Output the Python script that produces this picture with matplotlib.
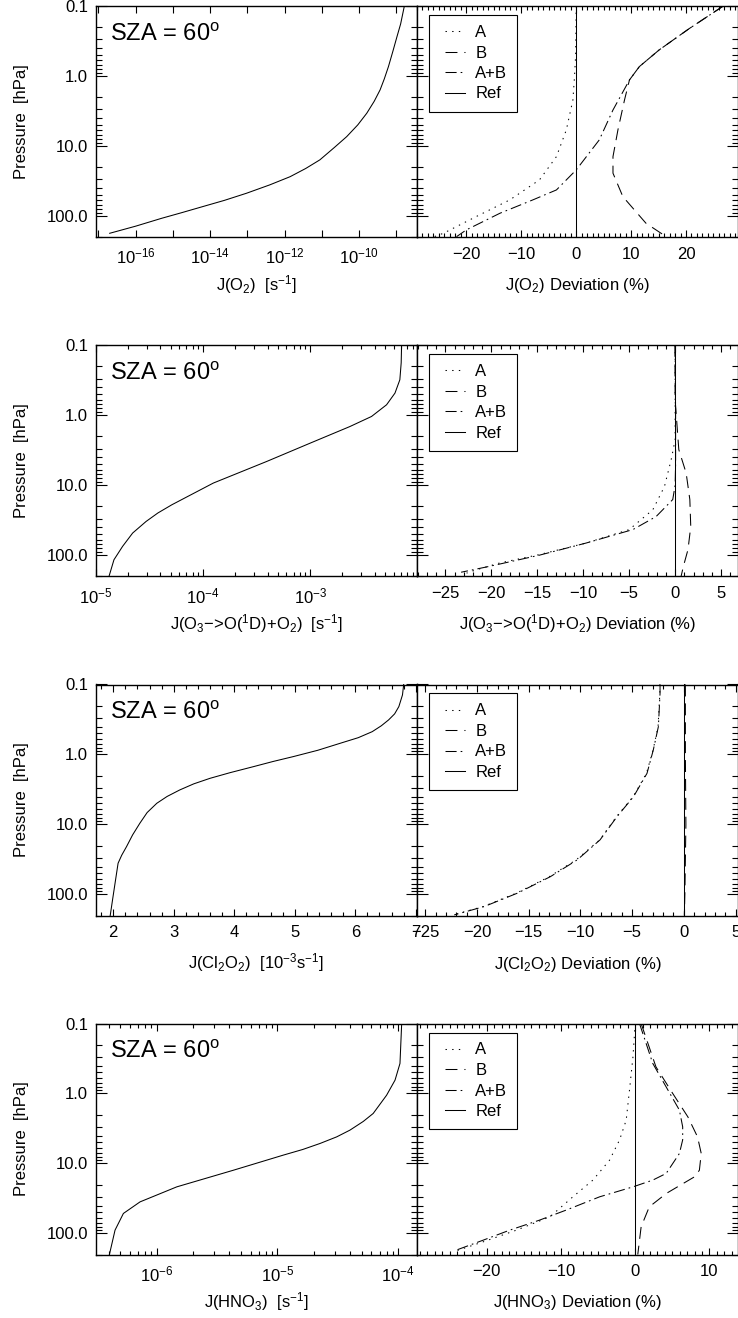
import numpy as np
import matplotlib
matplotlib.use('Agg')
import matplotlib.pyplot as plt
from matplotlib.ticker import (FixedLocator, FuncFormatter, MultipleLocator,
                               LogLocator, NullFormatter)
from matplotlib.legend_handler import HandlerLine2D

plt.rcParams['font.family'] = ['Liberation Sans', 'DejaVu Sans']
plt.rcParams['mathtext.fontset'] = 'custom'
plt.rcParams['mathtext.rm'] = 'Liberation Sans'
plt.rcParams['mathtext.it'] = 'Liberation Sans:italic'
plt.rcParams['mathtext.bf'] = 'Liberation Sans:bold'
plt.rcParams['mathtext.sf'] = 'Liberation Sans'
plt.rcParams['mathtext.default'] = 'regular'
plt.rcParams['lines.scale_dashes'] = False
plt.rcParams['axes.unicode_minus'] = True

# ------------------------------------------------------------------ data
series_labels = ['A', 'B', 'A+B', 'Ref']
sza_label = 'SZA = 60$^{o}$'
y_tick_values = [0.1, 1.0, 10.0, 100.0]
y_tick_labels = ['0.1', '1.0', '10.0', '100.0']

# Panel 1 : J(O2)  [s-1]
p_o2 = [0.1, 0.18, 0.275, 0.45, 0.735, 1.1, 1.58, 2.3, 3.41, 5.0, 7.36, 10.5,
        15.8, 21, 27.5, 36, 47.4, 60, 73.6, 90, 108, 140, 177]
j_o2 = [1.66e-9, 1.32e-9, 1.05e-9, 8.1e-10, 6.2e-10, 4.8e-10, 3.7e-10, 2.57e-10,
        1.62e-10, 9.3e-11, 4.68e-11, 2.19e-11, 8.9e-12, 3.7e-12, 1.41e-12,
        4.0e-13, 9.5e-14, 2.4e-14, 6.3e-15, 1.7e-15, 5.0e-16, 1.0e-16, 2.0e-17]
p_o2_a = [0.1, 0.5, 1.0, 2.2, 5.9, 14.2, 30.6, 59, 102, 177, 200]
dev_o2_a = [0.0, -0.1, -0.3, -0.6, -1.8, -3.6, -6.7, -12.1, -18.2, -24.2, -26.0]
p_o2_b = [0.1, 0.21, 0.425, 0.735, 1.14, 2.2, 5.9, 14.2, 24.5, 53, 127, 198]
dev_o2_b = [26.8, 20.6, 15.1, 11.5, 9.7, 8.8, 7.6, 6.7, 6.7, 8.5, 12.7, 16.4]
p_o2_ab = [0.1, 0.21, 0.425, 0.735, 1.14, 3.06, 8.2, 22, 42.5, 59, 91.6, 158, 198]
dev_o2_ab = [26.8, 20.6, 15.1, 11.5, 9.7, 6.7, 4.2, 0.0, -3.6, -7.9, -13.9, -20.0, -21.8]

# Panel 2 : J(O3 -> O(1D) + O2)  [s-1]
p_o1d = [0.1, 0.178, 0.311, 0.482, 0.708, 1.04, 1.45, 2.5, 4.57, 9.3, 19.0,
         24.9, 32.9, 48.2, 74.8, 116, 201]
j_o1d = [7.11e-3, 7.05e-3, 6.85e-3, 6.17e-3, 5.15e-3, 3.73e-3, 2.34e-3, 1.0e-3,
         3.93e-4, 1.25e-4, 5.13e-5, 3.80e-5, 2.95e-5, 2.21e-5, 1.78e-5,
         1.48e-5, 1.33e-5]
p_o1d_a = [0.1, 1.0, 2.24, 4.3, 10.4, 22.4, 43, 67, 98, 129, 161, 180]
dev_o1d_a = [0.0, 0.0, 0.0, -0.43, -1.16, -2.43, -5.0, -9.7, -14.8, -19.1, -21.6, -22.7]
p_o1d_b = [0.1, 0.6, 3.1, 6.7, 16, 38.8, 83, 144, 200]
dev_o1d_b = [0.0, 0.0, 0.4, 1.2, 1.6, 1.7, 1.4, 0.9, 0.65]
p_o1d_ab = [0.1, 1.0, 5.0, 10.0, 16, 28, 43, 67, 100, 144, 175]
dev_o1d_ab = [0.0, 0.05, 0.05, 0.0, -0.26, -2.07, -4.6, -9.7, -14.8, -20.2, -23.3]

# Panel 3 : J(Cl2O2)  [1e-3 s-1]
p_cl = [0.1, 0.141, 0.207, 0.263, 0.321, 0.389, 0.472, 0.575, 0.692, 0.871, 1.07,
        1.26, 1.49, 1.82, 2.19, 2.63, 3.21, 3.98, 4.98, 6.76, 9.6, 14.1, 20.7,
        27.5, 35.8, 69, 117, 200]
j_cl = [6.80, 6.78, 6.72, 6.65, 6.55, 6.43, 6.28, 6.05, 5.75, 5.38, 4.98,
        4.64, 4.32, 3.93, 3.60, 3.33, 3.10, 2.89, 2.72, 2.56, 2.44, 2.32, 2.22,
        2.14, 2.08, 2.03, 1.99, 1.95]
p_cl_a = [0.1, 0.134, 0.40, 0.86, 1.86, 4.0, 7.7, 16.6, 32, 55.7, 96, 149, 196]
dev_cl_a = [-2.32, -2.32, -2.49, -2.97, -3.61, -4.9, -6.5, -8.13, -10.4, -13.0,
            -16.2, -19.4, -22.3]
p_cl_b = [0.1, 1.0, 10.0, 100.0, 200.0]
dev_cl_b = [0.15, 0.15, 0.2, 0.1, 0.05]
p_cl_ab = [0.1, 0.134, 0.40, 0.86, 1.86, 4.0, 7.7, 16.6, 32, 55.7, 96, 149, 196]
dev_cl_ab = [-2.30, -2.30, -2.46, -2.95, -3.56, -4.86, -6.45, -8.10, -10.3, -12.9,
             -16.1, -19.3, -22.2]

# Panel 4 : J(HNO3)  [s-1]
p_hno3 = [0.1, 0.372, 0.645, 1.06, 1.93, 2.51, 3.34, 4.17, 5.18, 6.31, 7.6, 12.5,
          21.6, 35.4, 51.8, 89.7, 200]
j_hno3 = [1.067e-4, 1.033e-4, 9.4e-5, 8.0e-5, 6.2e-5, 5.13e-5, 3.98e-5, 3.09e-5,
          2.25e-5, 1.62e-5, 1.117e-5, 4.31e-6, 1.466e-6, 7.28e-7, 5.30e-7,
          4.52e-7, 4.06e-7]
p_hno3_a = [0.1, 0.3, 0.9, 2.4, 4.6, 9, 17.3, 30, 58, 89.7, 132, 183]
dev_hno3_a = [0.0, -0.3, -0.77, -1.21, -2.1, -3.46, -5.7, -8.4, -11.5, -16.0, -20.5, -24.5]
p_hno3_b = [0.1, 0.417, 1.0, 2.16, 4.17, 7.2, 12.5, 15.5, 26.8, 41.7, 80.5, 200]
dev_hno3_b = [0.8, 2.8, 5.06, 7.1, 8.4, 8.9, 8.65, 8.0, 4.2, 1.9, 0.8, 0.35]
p_hno3_ab = [0.1, 0.372, 0.805, 1.73, 3.0, 4.6, 7.2, 13.9, 17.3, 21.6, 30, 46.4,
             64.6, 89.7, 125, 173]
dev_hno3_ab = [0.58, 2.37, 4.17, 5.96, 6.4, 6.4, 5.96, 4.17, 2.37, -0.3, -4.8, -9.3,
               -12.9, -16.9, -20.5, -24.1]

# Reference (zero deviation)
p_ref = [0.1, 200.0]
dev_ref = [0.0, 0.0]

left_xlabels = ['J(O$_2$)  [s$^{-1}$]',
                'J(O$_3$\u2212>O($^1$D)+O$_2$)  [s$^{-1}$]',
                'J(Cl$_2$O$_2$)  [10$^{-3}$s$^{-1}$]',
                'J(HNO$_3$)  [s$^{-1}$]']
right_xlabels = ['J(O$_2$) Deviation (%)',
                 'J(O$_3$\u2212>O($^1$D)+O$_2$) Deviation (%)',
                 'J(Cl$_2$O$_2$) Deviation (%)',
                 'J(HNO$_3$) Deviation (%)']

# ------------------------------------------------------------------ layout / styles
W, H = 738.0, 1318.0
LX0, MID, RX1 = 95.7, 417.0, 737.6
TOPS = [6.0, 345.3, 684.5, 1023.5]
AH = 231.0
FS = 12
DOT = (0, (1.0, 3.8))
DASH = (0, (8.6, 5.0))
DASHDOT = (0, (8.0, 2.9, 1.2, 2.9))
LW = 0.75

panels = [
    dict(p=p_o2, j=j_o2, xscale='log', xlim=(10**-17.075, 10**-8.44),
         pa=p_o2_a, a=dev_o2_a, pb=p_o2_b, b=dev_o2_b, pab=p_o2_ab, ab=dev_o2_ab,
         dlim=(-29.0, 29.4), dmaj=10, dmin=1),
    dict(p=p_o1d, j=j_o1d, xscale='log', xlim=(1e-5, 0.0099),
         pa=p_o1d_a, a=dev_o1d_a, pb=p_o1d_b, b=dev_o1d_b, pab=p_o1d_ab, ab=dev_o1d_ab,
         dlim=(-28.1, 6.8), dmaj=5, dmin=1),
    dict(p=p_cl, j=j_cl, xscale='linear', xlim=(1.71, 7.02),
         pa=p_cl_a, a=dev_cl_a, pb=p_cl_b, b=dev_cl_b, pab=p_cl_ab, ab=dev_cl_ab,
         dlim=(-25.8, 5.2), dmaj=5, dmin=1),
    dict(p=p_hno3, j=j_hno3, xscale='log', xlim=(10**-6.505, 10**-3.845),
         pa=p_hno3_a, a=dev_hno3_a, pb=p_hno3_b, b=dev_hno3_b, pab=p_hno3_ab, ab=dev_hno3_ab,
         dlim=(-29.4, 13.8), dmaj=10, dmin=1),
]

fig = plt.figure(figsize=(W / 100, H / 100), dpi=100)


def rect(x0, x1, top):
    return [x0 / W, 1 - (top + AH) / H, (x1 - x0) / W, AH / H]


def style_axes(ax, ylabels):
    ax.set_yscale('log')
    ax.set_ylim(200, 0.1)
    ax.yaxis.set_major_locator(FixedLocator(y_tick_values))
    ax.yaxis.set_minor_locator(LogLocator(base=10, subs=np.arange(2, 10), numticks=20))
    if ylabels:
        lab = dict(zip(y_tick_values, y_tick_labels))
        ax.yaxis.set_major_formatter(
            FuncFormatter(lambda v, _: min(lab.items(), key=lambda kv: abs(np.log10(kv[0]) - np.log10(v)))[1]))
    else:
        ax.yaxis.set_major_formatter(NullFormatter())
    ax.yaxis.set_minor_formatter(NullFormatter())
    ax.tick_params(axis='y', which='major', direction='in', length=8.0, width=0.8,
                   left=True, right=True, labelsize=FS, pad=5.5)
    ax.tick_params(axis='y', which='minor', direction='in', length=4.4, width=0.8,
                   left=True, right=True)
    ax.tick_params(axis='x', which='major', direction='in', length=5.0, width=0.8,
                   top=True, bottom=True, labelsize=FS, pad=7.0)
    ax.tick_params(axis='x', which='minor', direction='in', length=2.8, width=0.8,
                   top=True, bottom=True)
    for s in ax.spines.values():
        s.set_linewidth(1.0)


def log_fmt(every):
    def f(v, _):
        e = int(round(np.log10(v)))
        if e % every:
            return ''
        return r'$10^{%d}$' % e
    return FuncFormatter(f)


for i, pn in enumerate(panels):
    top = TOPS[i]
    axl = fig.add_axes(rect(LX0, MID, top))
    axr = fig.add_axes(rect(MID, RX1, top))

    # ---- left: J profile
    axl.plot(pn['j'], pn['p'], color='black', lw=LW)
    style_axes(axl, True)
    axl.set_xscale(pn['xscale'])
    axl.set_xlim(*pn['xlim'])
    if pn['xscale'] == 'log':
        lo, hi = np.log10(pn['xlim'])
        decs = 10.0 ** np.arange(np.ceil(lo), np.floor(hi) + 1)
        axl.xaxis.set_major_locator(FixedLocator(decs))
        if i == 0:
            axl.xaxis.set_major_formatter(log_fmt(2))
            axl.xaxis.set_minor_locator(FixedLocator([]))
        else:
            axl.xaxis.set_major_formatter(log_fmt(1))
            axl.xaxis.set_minor_locator(LogLocator(base=10, subs=np.arange(2, 10), numticks=30))
        axl.xaxis.set_minor_formatter(NullFormatter())
    else:
        axl.xaxis.set_major_locator(MultipleLocator(1))
        axl.xaxis.set_minor_locator(MultipleLocator(0.2))
    axl.text(0.0445, 0.85, sza_label, transform=axl.transAxes, fontsize=17,
             ha='left', va='baseline')

    # ---- right: deviations
    h_a, = axr.plot(pn['a'], pn['pa'], color='black', lw=LW, linestyle=DOT)
    h_b, = axr.plot(pn['b'], pn['pb'], color='black', lw=LW, linestyle=DASH)
    h_ab, = axr.plot(pn['ab'], pn['pab'], color='black', lw=LW, linestyle=DASHDOT)
    h_ref, = axr.plot(dev_ref, p_ref, color='black', lw=LW, linestyle='-')
    style_axes(axr, False)
    axr.set_xlim(*pn['dlim'])
    axr.xaxis.set_major_locator(MultipleLocator(pn['dmaj']))
    axr.xaxis.set_minor_locator(MultipleLocator(pn['dmin']))

    hm = {ln: HandlerLine2D(xpad=0.36) for ln in (h_a, h_b, h_ab, h_ref)}
    leg = axr.legend([h_a, h_b, h_ab, h_ref], series_labels, loc='upper left',
                     bbox_to_anchor=(12.3 / (RX1 - MID), 1 - 9.0 / AH),
                     borderaxespad=0.0, fontsize=FS, frameon=True, fancybox=False,
                     framealpha=1.0, edgecolor='black', handlelength=1.56,
                     handletextpad=0.6, borderpad=0.6, labelspacing=0.33,
                     handler_map=hm)
    leg.get_frame().set_linewidth(0.8)

    # ---- axis titles
    ybase = 1 - (top + AH + 53.0) / H
    fig.text((LX0 + MID) / 2 / W, ybase, left_xlabels[i], fontsize=FS,
             ha='center', va='baseline')
    fig.text((MID + RX1) / 2 / W, ybase, right_xlabels[i], fontsize=FS,
             ha='center', va='baseline')
    fig.text(21.5 / W, 1 - (top + AH / 2) / H, 'Pressure  [hPa]', fontsize=FS,
             rotation=90, ha='center', va='center')

fig.savefig('out.png', dpi=100)
